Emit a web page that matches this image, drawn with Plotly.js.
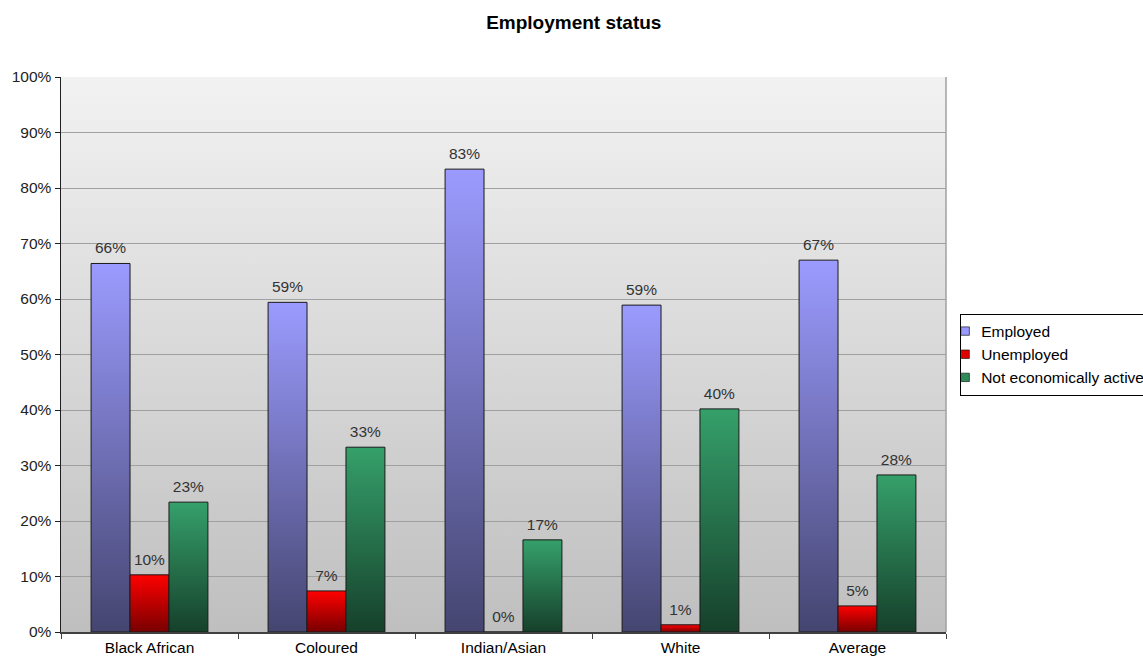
<!DOCTYPE html>
<html>
<head>
<meta charset="utf-8">
<script src="https://cdn.plot.ly/plotly-3.0.1.min.js"></script>
<style>html,body{margin:0;padding:0;background:#fff;}#chart{width:1143px;height:660px;}</style>
</head>
<body>
<div id="chart"></div>
<script>
const categories = ["Black African", "Coloured", "Indian/Asian", "White", "Average"];
const employed = [0.664, 0.594, 0.834, 0.589, 0.670];
const unemployed = [0.103, 0.074, 0.0, 0.013, 0.047];
const notActive = [0.234, 0.333, 0.166, 0.402, 0.283];
const seriesNames = ["Employed", "Unemployed", "Not economically active"];
const yTickVals = [0, 0.1, 0.2, 0.3, 0.4, 0.5, 0.6, 0.7, 0.8, 0.9, 1.0];
const yTickText = ["0%", "10%", "20%", "30%", "40%", "50%", "60%", "70%", "80%", "90%", "100%"];

const FONT = "Liberation Sans, Arial, sans-serif";
const solid = ["#9999ff", "#e00000", "#2e8b57"];
const gradStops = [
  ["#9b9bff", "#454570"],
  ["#ff0000", "#780000"],
  ["#35a06a", "#16402b"]
];

function barTrace(name, values, i) {
  return {
    type: "bar",
    name: name,
    x: categories,
    y: values,
    marker: { color: solid[i], line: { color: "#1a1a1a", width: 1 } },
    texttemplate: "%{y:.0%}",
    textposition: "outside",
    textfont: { family: FONT, size: 15.5, color: "#333333" },
    cliponaxis: false,
    hoverinfo: "skip"
  };
}

const data = [
  barTrace(seriesNames[0], employed, 0),
  barTrace(seriesNames[1], unemployed, 1),
  barTrace(seriesNames[2], notActive, 2)
];

const layout = {
  width: 1143,
  height: 660,
  margin: { l: 61, r: 197, t: 77, b: 28, pad: 0, autoexpand: false },
  paper_bgcolor: "#ffffff",
  plot_bgcolor: "#d8d8d8",
  font: { family: FONT, size: 15.5, color: "#000" },
  title: {
    text: "<b>Employment status</b>",
    font: { family: FONT, size: 19, color: "#000" },
    xref: "container", x: 0.502, xanchor: "center",
    yref: "container", y: 0.966, yanchor: "middle"
  },
  barmode: "group",
  bargap: 0.34,
  bargroupgap: 0,
  showlegend: true,
  legend: {
    x: 1.016, xanchor: "left",
    y: 0.5, yanchor: "middle",
    bgcolor: "#ffffff",
    bordercolor: "#000000",
    borderwidth: 1,
    font: { family: FONT, size: 15.5, color: "#000" },
    itemwidth: 30,
    traceorder: "normal"
  },
  xaxis: {
    type: "category",
    showline: true, linecolor: "#404040", linewidth: 1.5,
    ticks: "outside", ticklen: 5, tickcolor: "#404040",
    tickson: "boundaries",
    ticklabelstandoff: 1,
    showgrid: false,
    tickfont: { family: FONT, size: 15.5, color: "#000" },
    fixedrange: true
  },
  yaxis: {
    range: [0, 1],
    tickvals: yTickVals,
    ticktext: yTickText,
    showline: true, linecolor: "#202020", linewidth: 1.5,
    ticks: "outside", ticklen: 5, tickcolor: "#202020",
    showgrid: true, gridcolor: "#a0a0a0", gridwidth: 1,
    zeroline: false,
    tickfont: { family: FONT, size: 15.5, color: "#222" },
    fixedrange: true
  },
  shapes: [
    { type: "line", xref: "paper", yref: "paper", x0: 1, x1: 1, y0: 0, y1: 1,
      line: { color: "#a0a0a0", width: 1.5 } }
  ]
};

Plotly.newPlot("chart", data, layout, { staticPlot: true, displayModeBar: false }).then(function (gd) {
  const NS = "http://www.w3.org/2000/svg";
  const svg = gd.querySelector("svg.main-svg");
  let defs = svg.querySelector("defs");
  if (!defs) { defs = document.createElementNS(NS, "defs"); svg.insertBefore(defs, svg.firstChild); }
  function addGrad(id, top, bottom) {
    const g = document.createElementNS(NS, "linearGradient");
    g.setAttribute("id", id);
    g.setAttribute("x1", "0"); g.setAttribute("y1", "0");
    g.setAttribute("x2", "0"); g.setAttribute("y2", "1");
    [[0, top], [1, bottom]].forEach(function (s) {
      const st = document.createElementNS(NS, "stop");
      st.setAttribute("offset", s[0]);
      st.setAttribute("stop-color", s[1]);
      g.appendChild(st);
    });
    defs.appendChild(g);
  }
  addGrad("gradBg", "#f2f2f2", "#bfbfbf");
  gradStops.forEach(function (s, i) { addGrad("gradBar" + i, s[0], s[1]); });

  const bg = gd.querySelector(".bglayer rect.bg");
  if (bg) bg.style.fill = "url(#gradBg)";

  const traces = gd.querySelectorAll(".barlayer .trace.bars");
  traces.forEach(function (t, i) {
    t.querySelectorAll(".point path").forEach(function (p) {
      p.style.fill = "url(#gradBar" + i + ")";
    });
    t.querySelectorAll("text.bartext").forEach(function (tx) {
      const y = parseFloat(tx.getAttribute("y") || "0");
      tx.setAttribute("y", y - 4);
    });
  });

  // compact legend symbols like the reference
  gd.querySelectorAll(".legend .traces").forEach(function (tr) {
    const pts = tr.querySelector(".legendpoints");
    if (pts) pts.setAttribute("transform", "translate(-10,0) scale(0.7)");
    const txt = tr.querySelector("text.legendtext");
    if (txt) txt.setAttribute("x", 20);
  });
});
</script>
</body>
</html>
